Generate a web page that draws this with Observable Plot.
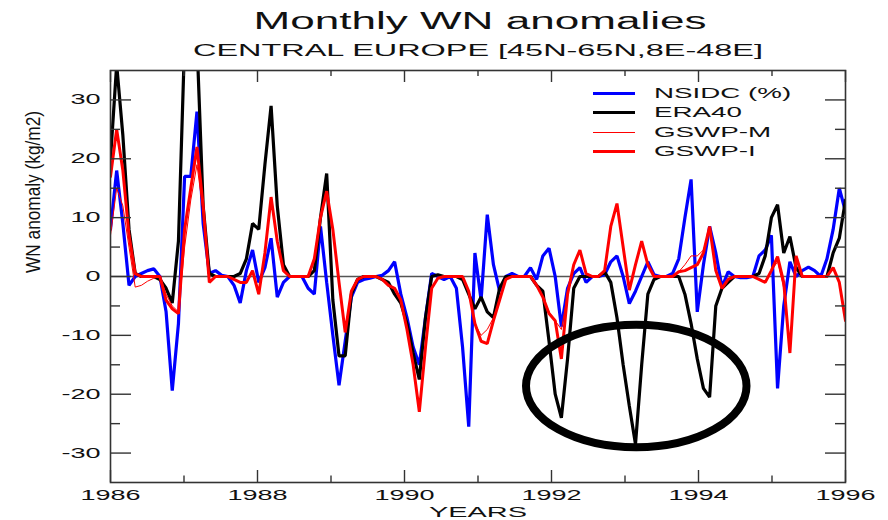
<!DOCTYPE html>
<html><head><meta charset="utf-8">
<script src="https://cdn.jsdelivr.net/npm/d3@7"></script>
<script src="https://cdn.jsdelivr.net/npm/@observablehq/plot@0.6"></script>
<style>
body{margin:0;background:#fff;}
#wrap{position:relative;width:888px;height:520px;font-family:"Liberation Sans",Arial,sans-serif;}
.sw{position:absolute;left:593px;width:42px;}
.lt{position:absolute;left:654px;font-size:15px;line-height:16px;height:16px;transform-origin:0 50%;transform:scaleX(1.85);white-space:nowrap;color:#111;}
</style></head><body><div id="wrap"></div>
<script>
// ---- data (monthly anomalies, Jan 1986 .. Dec 1995) ----
const nsidc = [8,18,9,-1.5,0,0.5,1,1.3,0,-6,-19.4,-8,17,17,28,9,0.5,1,0.2,0,-1.5,-4.5,1,4.5,-1,1.5,6.5,-3.5,-1,0,
0,0,-2,-3,8.5,-1,-10,-18.5,-11,-3.5,-1,-0.5,-0.3,0,0.2,1,2.5,-3,-7,-12,-15,-7,0.5,0,-0.5,0,-2,-12,-25.5,4,
-4,10.5,2,-2.5,0,0.5,0,0,1.5,-0.5,3.5,4.8,0,-8.5,-2,0.5,1.5,-1,0,0,0.3,2.5,3.5,0,-4.6,-2.5,0,2.5,0.3,0,
0,0.5,3,10,16.5,-6,2,8.5,4,-1.8,0.8,0,-0.2,-0.2,0,3.5,4.5,7,-19,-5,2.5,0,1,1.6,1,0,3,8,15,11];
const era40 = [20,36,24,8,0.5,0,0,0,-0.5,-2,-4.5,6,40,45,40,12,0.5,0,0,0,0,0.5,3,9,8,19,29,12,2,0,
0,0,0,1,10,17.5,-4,-13.5,-13.5,-3,-0.5,0,0,0,-0.5,-1,-3,-4.5,-8,-13,-17.5,-7,0,0.3,0,0,0,-0.5,-3,-5.5,
-3.5,-6,-7,-2,0,0,0,0,0,-1.5,-2.5,-11,-20,-24,-14,-2,0,0,0,0,0.8,-1,-7,-15,-22,-28.5,-15,-3,-0.5,0,
0,0,0,-3,-8,-14,-19,-20.5,-5,-2,-1,0,0,0,0,0.5,3.5,10,12.2,4,6.8,1.5,0,0,0,0,0,4,6.5,13];
const gswpM = [7,15,12,5,-1.8,-1.5,-0.8,-0.3,0,-3,-5,-6,5,13,19,11,-1,0,0,0,-0.5,-1,-1,1,-3,4,13,6,1,0,
0,0,0,3,10,14,8,-1,-9,-2.5,-0.5,0,0,0,-0.5,-1.5,-2,-4,-9,-15,-22.5,-12,-2,-0.3,0,0,0,0,-2.5,-8,
-10,-9,-7,-4,-0.5,0,0,0,0,-1.5,-3.5,-6,-7.5,-9,-3,2,4.5,0.5,0,0,1,8.5,12,5,-2,2,6,2,0,0,
0,0,0.8,2,3.5,3.5,4.5,8,1,-2,-0.5,0,0,0,0,-0.5,-1,1,2.5,-2,-12,3,0,0,0,0,0,1.5,-1,-7.5];
const gswpI = [17,25,18,7,0.5,0,0,0,0,-4,-5.5,-6.3,8,15,22,12,-1,0,0,0,-0.5,-1,-1,1,-3,4,13.5,6,1,0,
0,0,0,3,10,14.5,8,-1,-9.5,-2.5,-0.5,0,0,0,-0.5,-1.5,-2,-4,-9,-15,-23,-12,-2,-0.3,0,0,0,0,-2.5,-8,
-11,-11.4,-7.5,-4,-0.5,0,0,0,0,-1.5,-3.5,-6.3,-7.5,-14,-3,2,4.5,0.5,0,0,1,8.5,12.4,5,-2.3,2,6,2,0,0,
0,0,0.8,1,1.5,2,4,8.5,1,-2,-0.5,0,0,0,0,-0.5,-1,1,3.4,-1,-13,3.5,0,0,0,0,0,1.5,-1,-7.5];
const seriesNames = ["NSIDC (%)", "ERA40", "GSWP-M", "GSWP-I"];
const yMajor = [-30,-20,-10,0,10,20,30];
const yMinor = [-25,-15,-5,5,15,25];
const xMajor = [1986,1988,1990,1992,1994,1996];
const xMinor = [1987,1989,1991,1993,1995];
const title = "Monthly WN anomalies";
const subtitle = "CENTRAL EUROPE [45N-65N,8E-48E]";
const xLabel = "YEARS";
const yLabel = "WN anomaly (kg/m2)";
const note = {cx: 1993.16, cy: -18.7, rx: 1.50, ry: 10.4};

// ---- layout ----
const W = 888, H = 520, mL = 110, mR = 43, mT = 70, mB = 38;
const pw = W - mL - mR, ph = H - mT - mB;
const ink = "#333";
const toRows = arr => arr.map((v, i) => ({t: 1986 + i * 10 / (arr.length - 1), v}));
const styles = [
  {stroke: "#0000ff", strokeWidth: 3.2},
  {stroke: "#000000", strokeWidth: 3.2},
  {stroke: "#ff0000", strokeWidth: 1},
  {stroke: "#ff0000", strokeWidth: 3}
];
const allSeries = [nsidc, era40, gswpM, gswpI];

const plot = Plot.plot({
  width: W, height: H,
  marginLeft: mL, marginRight: mR, marginTop: mT, marginBottom: mB,
  x: {domain: [1986, 1996]},
  y: {domain: [-35, 35]},
  style: {fontFamily: "'Liberation Sans', Arial, sans-serif", fontSize: "14px", color: "#111", background: "#fff", overflow: "visible"},
  marks: [
    Plot.ruleY([0], {stroke: "#555", strokeWidth: 1.4}),
    ...allSeries.map((s, k) => Plot.line(toRows(s), {x: "t", y: "v", ...styles[k], strokeLinejoin: "miter", clip: true})),
    Plot.frame({stroke: ink, strokeWidth: 1.6}),
    Plot.tickY(yMajor, {y: d => d, stroke: ink, strokeWidth: 1.4, insetRight: pw - 21}),
    Plot.tickY(yMinor, {y: d => d, stroke: ink, strokeWidth: 1.4, insetRight: pw - 10}),
    Plot.tickY(yMajor, {y: d => d, stroke: ink, strokeWidth: 1.4, insetLeft: pw - 20}),
    Plot.tickY(yMinor, {y: d => d, stroke: ink, strokeWidth: 1.4, insetLeft: pw - 10}),
    Plot.tickX(xMajor, {x: d => d, stroke: ink, strokeWidth: 1.4, insetTop: ph - 12}),
    Plot.tickX(xMinor, {x: d => d, stroke: ink, strokeWidth: 1.4, insetTop: ph - 6.5}),
    Plot.tickX(xMajor, {x: d => d, stroke: ink, strokeWidth: 1.4, insetBottom: ph - 12}),
    Plot.tickX(xMinor, {x: d => d, stroke: ink, strokeWidth: 1.4, insetBottom: ph - 6}),
    Plot.axisX(xMajor, {tickSize: 0, tickPadding: 8, tickFormat: d => String(d), label: null, fontSize: 14}),
    Plot.axisY(yMajor, {tickSize: 0, tickPadding: 10, tickFormat: d => String(d), label: null, fontSize: 14}),
    Plot.text([title], {text: d => d, frameAnchor: "top", dx: 2, dy: -41.7, lineAnchor: "bottom", fontSize: 23, fill: "#111"}),
    Plot.text([subtitle], {text: d => d, frameAnchor: "top", dy: -15, lineAnchor: "bottom", fontSize: 17, fill: "#111"}),
    Plot.text([xLabel], {text: d => d, frameAnchor: "bottom", dy: 34.5, lineAnchor: "bottom", fontSize: 15, fill: "#111"}),
    Plot.text([yLabel], {text: d => d, frameAnchor: "left", dx: -77, dy: -3.5, rotate: -90, lineAnchor: "middle", fontSize: 21, fill: "#111"})
  ]
});

const wrap = document.getElementById("wrap");
wrap.appendChild(plot);

// annotation ellipse placed through the plot's scales
const sx = plot.scale("x"), sy = plot.scale("y");
const ecx = sx.apply(note.cx), ecy = sy.apply(note.cy);
d3.select(plot).append("ellipse")
  .attr("cx", ecx).attr("cy", ecy)
  .attr("rx", sx.apply(note.cx + note.rx) - ecx)
  .attr("ry", sy.apply(note.cy - note.ry) - ecy)
  .attr("fill", "none").attr("stroke", "#000").attr("stroke-width", 8);

// the reference's lettering is horizontally stretched
for (const t of plot.querySelectorAll("text")) {
  const s = t.textContent;
  let target;
  if (s === title) target = 453;
  else if (s === subtitle) target = 570;
  else if (s === xLabel) target = 98;
  else if (s === yLabel) target = 162;
  else target = t.getComputedTextLength() * 1.93;
  t.setAttribute("textLength", target);
  t.setAttribute("lengthAdjust", "spacingAndGlyphs");
}

// legend (inside the frame, top right)
seriesNames.forEach((name, k) => {
  const cy = 93.5 + k * 19.3;
  const sw = document.createElement("div");
  sw.className = "sw";
  sw.style.top = (cy - styles[k].strokeWidth / 2) + "px";
  sw.style.height = styles[k].strokeWidth + "px";
  sw.style.background = styles[k].stroke;
  wrap.appendChild(sw);
  const lt = document.createElement("div");
  lt.className = "lt";
  lt.style.top = (cy - 8.5) + "px";
  lt.textContent = name;
  wrap.appendChild(lt);
});
</script></body></html>
